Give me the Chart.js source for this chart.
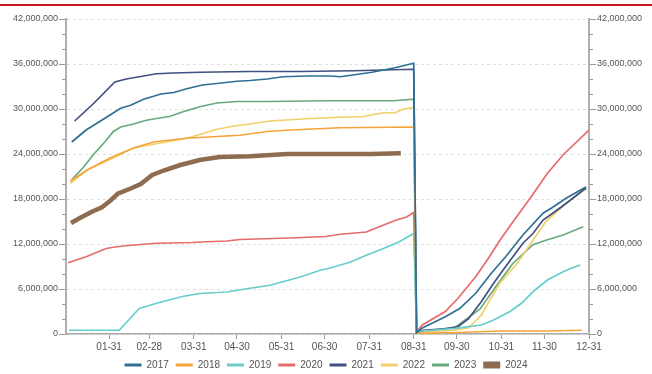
<!DOCTYPE html>
<html><head><meta charset="utf-8">
<style>
html,body{margin:0;padding:0;background:#fff;overflow:hidden;width:652px;height:374px;}
#wrap{position:absolute;left:0;top:0;width:652px;height:380px;}
#topline{position:absolute;left:0;top:4px;width:652px;height:2px;background:#c4161c;}
</style>
<script src="https://cdn.jsdelivr.net/npm/chart.js@4/dist/chart.umd.min.js"></script>
</head><body>
<div id="wrap"><canvas id="c" width="652" height="380"></canvas></div>
<div id="topline"></div>
<script>
// x = day of year (0 = 01-01), y = millions
const tickDays = [30, 58, 89, 119, 150, 180, 211, 242, 272, 303, 333, 364];
const tickLabels = ['01-31','02-28','03-31','04-30','05-31','06-30','07-31','08-31','09-30','10-31','11-30','12-31'];
const seriesNames = ['2017','2018','2019','2020','2021','2022','2023','2024'];
const seriesColors = ['#2f6f95','#f5a33a','#67cccc','#e66b6b','#40507f','#f0d06a','#68a97e','#8d6c4f'];
const yMax = 42e6, majorStep = 6e6, minorStep = 2e6;

const s2017 = [[4,25.6],[14,27.2],[19,27.8],[29,29.0],[38,30.1],[45,30.5],[54,31.3],[61,31.7],[66,32.0],[75,32.2],[84,32.7],[95,33.2],[105,33.4],[119,33.7],[128,33.8],[140,34.0],[151,34.3],[168,34.4],[184,34.4],[191,34.3],[213,34.9],[229,35.5],[242,36.1],
  [244,0.2],[248,0.8],[264,2.3],[274,3.4],[285,5.4],[296,8.1],[306,10.3],[318,13.2],[332,16.1],[338,16.8],[348,18.1],[360,19.4],[362,19.6]];
const s2018 = [[3,20.4],[15,21.9],[31,23.5],[47,24.8],[61,25.6],[70,25.8],[84,26.1],[102,26.3],[121,26.5],[140,27.0],[156,27.2],[191,27.5],[242,27.6],
  [244,0.1],[272,0.2],[303,0.4],[335,0.4],[359,0.5]];
const s2019 = [[2,0.5],[37,0.5],[51,3.4],[65,4.2],[81,5.0],[93,5.4],[112,5.6],[128,6.1],[142,6.5],[163,7.6],[177,8.5],[184,8.8],[198,9.6],[209,10.5],[221,11.4],[232,12.3],[242,13.4],
  [244,0.2],[248,0.4],[271,0.75],[289,1.2],[298,1.9],[309,3.0],[317,4.1],[326,5.8],[335,7.2],[345,8.2],[352,8.8],[358,9.2]];
const s2020 = [[1.5,9.5],[14,10.3],[28,11.4],[34,11.6],[43,11.8],[63,12.1],[88,12.2],[98,12.3],[112,12.4],[121,12.6],[156,12.8],[181,13.0],[191,13.3],[209,13.6],[218,14.3],[230,15.2],[237,15.6],[242,16.2],
  [244,0.3],[248,1.2],[264,3.0],[273,4.8],[285,7.6],[294,10.1],[302,12.5],[309,14.4],[323,18.1],[335,21.4],[346,23.9],[364,27.2]];
const s2021 = [[6,28.4],[19,30.7],[34,33.6],[42,34.0],[51,34.3],[63,34.7],[75,34.8],[93,34.9],[128,35.0],[163,35.0],[200,35.1],[242,35.3],
  [244,0.2],[249,0.5],[264,0.7],[273,1.0],[280,2.0],[289,4.3],[297,6.6],[306,9.0],[318,12.1],[325,13.4],[332,15.2],[338,16.0],[348,17.4],[360,19.2],[362,19.4]];
const s2022 = [[3,20.1],[15,21.9],[31,23.3],[47,24.8],[61,25.3],[70,25.6],[84,26.1],[93,26.6],[105,27.3],[116,27.7],[128,28.0],[142,28.4],[167,28.7],[191,28.9],[207,29.0],[221,29.5],[229,29.5],[235,30.0],[242,30.2],
  [244,0.1],[250,0.3],[270,0.5],[280,0.8],[289,2.5],[295,4.5],[302,6.8],[314,9.4],[325,12.5],[334,15.0],[348,17.4],[362,19.4]];
const s2023 = [[4,20.6],[12,22.2],[19,23.9],[27,25.6],[33,27.0],[38,27.6],[47,28.0],[56,28.5],[65,28.8],[72,29.0],[81,29.6],[93,30.3],[105,30.8],[119,31.0],[140,31.0],[184,31.1],[228,31.1],[242,31.3],
  [244,0.2],[250,0.4],[271,0.9],[288,3.3],[301,6.8],[311,9.4],[325,11.9],[334,12.5],[346,13.2],[360,14.3]];
const s2024 = [[3.5,14.8],[10,15.5],[18,16.3],[25,16.9],[31,17.8],[36,18.7],[45,19.4],[52,20.0],[60,21.2],[68,21.8],[79,22.5],[93,23.2],[107,23.6],[128,23.7],[154,24.0],[184,24.0],[212,24.0],[233,24.1]];
const seriesData = [s2017, s2018, s2019, s2020, s2021, s2022, s2023, s2024];

const FONT = '"Liberation Sans", Arial, sans-serif';

const datasets = seriesNames.map((name, i) => ({
  label: name,
  data: seriesData[i].map(p => ({x: p[0], y: p[1] * 1e6})),
  borderColor: seriesColors[i],
  backgroundColor: seriesColors[i],
  borderWidth: name === '2024' ? 4.5 : 1.7,
  pointRadius: 0, pointHoverRadius: 0, tension: 0, fill: false
}));

const minorTicks = {
  id: 'minorTicks',
  afterDraw(chart) {
    const ctx = chart.ctx;
    ['y', 'y2'].forEach(id => {
      const s = chart.scales[id];
      ctx.save();
      ctx.strokeStyle = '#999';
      ctx.lineWidth = 1;
      for (let v = minorStep; v < yMax; v += minorStep) {
        if (v % majorStep === 0) continue;
        const py = Math.round(s.getPixelForValue(v)) + 0.5;
        ctx.beginPath();
        if (s.position === 'left') { ctx.moveTo(s.right - 4, py); ctx.lineTo(s.right, py); }
        else { ctx.moveTo(s.left, py); ctx.lineTo(s.left + 4, py); }
        ctx.stroke();
      }
      ctx.restore();
    });
  }
};

const yTickCb = v => (v % majorStep === 0 ? Number(v).toLocaleString('en-US') : '');

new Chart(document.getElementById('c'), {
  type: 'line',
  data: {datasets},
  plugins: [minorTicks],
  options: {
    responsive: false, animation: false, devicePixelRatio: 1,
    layout: {padding: {top: 19, left: 0, right: 0, bottom: 0}},
    plugins: {
      tooltip: {enabled: false},
      legend: {
        position: 'bottom',
        labels: {
          usePointStyle: true, pointStyle: 'line', pointStyleWidth: 17, padding: 7,
          color: '#555', font: {family: FONT, size: 10},
          generateLabels(chart) {
            const items = Chart.defaults.plugins.legend.labels.generateLabels(chart);
            items.forEach(it => { it.lineWidth = it.text === '2024' ? 7 : 3; it.pointStyle = 'line'; });
            return items;
          }
        }
      }
    },
    scales: {
      x: {
        type: 'linear', min: 0, max: 364,
        afterBuildTicks(s) { s.ticks = tickDays.map(v => ({value: v})); },
        afterFit(s) { s.height = 19; },
        ticks: {
          callback: v => tickLabels[tickDays.indexOf(v)],
          color: '#555', font: {family: FONT, size: 10}, padding: 2, maxRotation: 0, autoSkip: false
        },
        grid: {drawOnChartArea: false, drawTicks: true, tickLength: 5, color: '#999'},
        border: {color: '#aaa', width: 1.5}
      },
      y: {
        position: 'left', min: 0, max: yMax,
        afterFit(s) { s.width = 66; },
        ticks: {stepSize: majorStep, callback: yTickCb, color: '#555', font: {family: FONT, size: 9}, padding: 1},
        grid: {color: '#e0e0e0', lineWidth: 1, drawTicks: true, tickLength: 7, tickColor: '#999'},
        border: {color: '#b0b0b0', width: 2, dash: [3, 3]}
      },
      y2: {
        position: 'right', min: 0, max: yMax,
        afterFit(s) { s.width = 63; },
        ticks: {stepSize: majorStep, callback: yTickCb, color: '#555', font: {family: FONT, size: 9}, padding: 1},
        grid: {drawOnChartArea: false, drawTicks: true, tickLength: 7, tickColor: '#999'},
        border: {color: '#b0b0b0', width: 2}
      }
    }
  }
});
</script>
</body></html>
